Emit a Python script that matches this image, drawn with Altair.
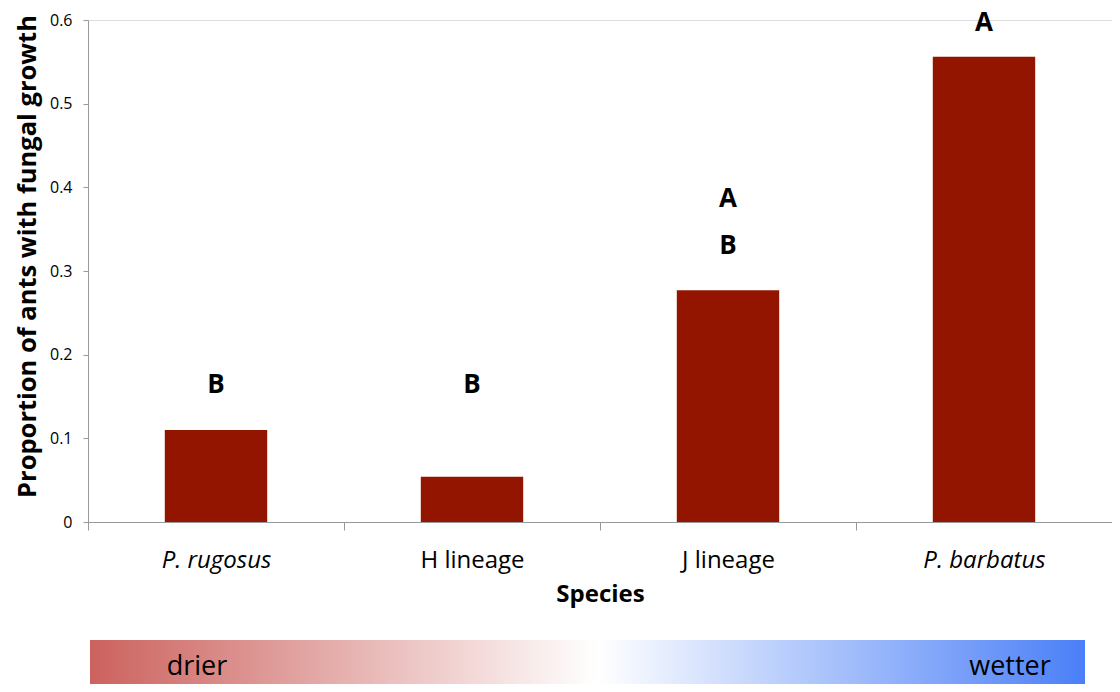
import altair as alt
import pandas as pd

species = ["P. rugosus", "H lineage", "J lineage", "P. barbatus"]
proportion = [0.110, 0.054, 0.277, 0.556]

letter_species = ["P. rugosus", "H lineage", "J lineage", "J lineage", "P. barbatus"]
letters = ["B", "B", "A", "B", "A"]
letter_y = [0.164, 0.164, 0.386, 0.330, 0.596]

ends = ["drier", "wetter"]

FONT = "Open Sans"
BAR = "#931500"

bars_df = pd.DataFrame({"species": species, "proportion": proportion})
letters_df = pd.DataFrame({"species": letter_species, "letter": letters, "y": letter_y})

W, H = 1024, 502

xscale = alt.Scale(domain=species, paddingInner=0, paddingOuter=0)
yscale = alt.Scale(domain=[0, 0.6], nice=False)

bars = alt.Chart(bars_df).mark_bar(color=BAR, width=alt.RelativeBandSize(0.4)).encode(
    x=alt.X("species:N", scale=xscale, sort=species, title="Species",
            axis=alt.Axis(
                tickBand="extent", labelAngle=0, labelFontSize=24, labelFont=FONT,
                labelColor="#000", labelPadding=18, tickSize=8, tickColor="#999",
                domainColor="#999",
                labelFontStyle=alt.ExprRef(expr="indexof(['P. rugosus','P. barbatus'], datum.value) >= 0 ? 'italic' : 'normal'"),
                titleFontSize=24, titleFont=FONT, titleFontWeight="bold", titleColor="#000",
                titlePadding=10)),
    y=alt.Y("proportion:Q", scale=yscale, title="Proportion of ants with fungal growth",
            axis=alt.Axis(
                values=[0, 0.1, 0.2, 0.3, 0.4, 0.5, 0.6], grid=False,
                labelExpr="datum.value == 0 ? '0' : format(datum.value, '.1f')",
                labelFontSize=16, labelFont=FONT, labelColor="#000", labelPadding=11,
                tickSize=5, tickColor="#999", domainColor="#999",
                titleFontSize=25.5, titleFont=FONT, titleFontWeight="bold", titleColor="#000",
                titlePadding=9, titleY=236)),
)

letter_marks = alt.Chart(letters_df).mark_text(
    font=FONT, fontSize=26, fontWeight="bold", color="#000", baseline="middle"
).encode(
    x=alt.X("species:N", scale=xscale, sort=species),
    y=alt.Y("y:Q", scale=yscale),
    text="letter:N",
)

grad = alt.Chart(pd.DataFrame({"k": [0]})).mark_rect(
    color=alt.Gradient(
        gradient="linear", x1=0, x2=1, y1=0, y2=0,
        stops=[alt.GradientStop(offset=0, color="#cc625e"),
               alt.GradientStop(offset=0.51, color="#ffffff"),
               alt.GradientStop(offset=1, color="#4a7ff7")]),
).encode(x=alt.value(2), x2=alt.value(997), y=alt.value(620), y2=alt.value(680))

end_df = pd.DataFrame({"label": ends, "px": [109, 922]})
end_text = alt.Chart(end_df).mark_text(
    font=FONT, fontSize=27, color="#000", baseline="middle", align="center"
).encode(x=alt.X("px:Q", scale=None), y=alt.value(647), text="label:N")

chart = alt.layer(bars, letter_marks, grad, end_text).properties(
    width=W, height=H,
    autosize=alt.AutoSizeParams(type="none"),
    padding={"left": 80, "top": 12, "right": 0, "bottom": 162},
).configure_view(stroke=None).configure(background="white")

chart.save("out.html", embed_options={"renderer": "svg", "actions": False})
